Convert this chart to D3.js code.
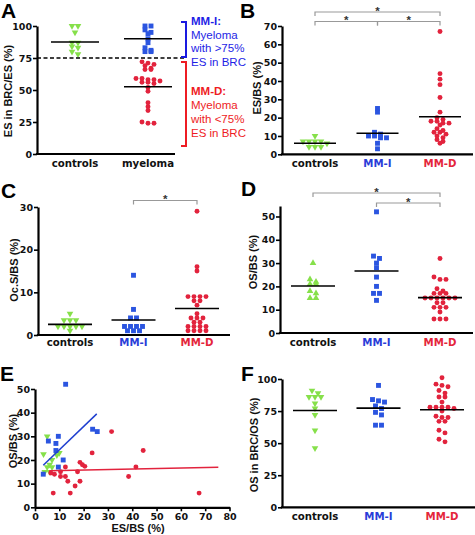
<!DOCTYPE html>
<html><head><meta charset="utf-8">
<script src="https://cdn.jsdelivr.net/npm/d3@7"></script>
<style>body{margin:0;background:#fff}svg{display:block}</style>
</head><body>
<svg id="chart" width="475" height="535"></svg>
<script>
// ---------------- DATA ----------------
const groups3 = ["controls", "MM-I", "MM-D"];
const groupsA = ["controls", "myeloma"];

// Panel A: ES in BRC/ES (%)
const aControls = [100, 100, 95, 87, 87, 84, 83, 80, 78];
const aMMI = [100, 100, 97, 95, 94, 90, 87, 83, 81, 80, 80];
const aMMD = [72, 71, 70, 69, 67, 66, 66, 59, 59, 58, 58, 57, 56, 56, 55, 52, 49, 40, 37, 34, 25, 24, 24];
const aLines = [87.5, 90, 52.5];
const aTicks = [0, 25, 50, 75, 100];
const aCutoff = 75;

// Panel B: ES/BS (%)
const bControls = [10, 7, 7, 7, 7, 6, 4, 4, 4];
const bMMI = [25, 23, 12, 11, 10, 10, 9, 9, 6, 3];
const bMMD = [67, 44, 41, 38, 31, 23, 20, 19, 18, 18, 17, 17, 16, 14, 13, 12, 12, 11, 10, 9, 8, 7, 6];
const bLines = [6, 11.5, 20.5];
const bTicks = [0, 10, 20, 30, 40, 50, 60, 70];
const bSig = [["controls", "MM-D", 0], ["controls", "MM-I", 1], ["MM-I", "MM-D", 1]];

// Panel C: Oc.S/BS (%)
const cControls = [5, 3.5, 3.5, 3.5, 2, 2, 2, 2, 2, 1];
const cMMI = [14, 6, 4, 4, 2, 2, 2, 2, 1, 1, 1];
const cMMD = [29, 16, 15, 9, 9, 9, 9, 8, 8, 7, 5, 4, 4, 4, 3, 3, 2, 2, 2, 2, 1, 1, 1, 1];
const cLines = [2.5, 3.5, 6.2];
const cTicks = [0, 10, 20, 30];
const cSig = [["MM-I", "MM-D", 0]];

// Panel D: OS/BS (%)
const dControls = [30, 23, 22, 21, 21, 18, 17, 15, 15];
const dMMI = [52, 33, 32, 30, 28, 24, 20, 17, 17, 14];
const dMMD = [32, 24, 23, 23, 19, 18, 17, 17, 17, 15, 15, 15, 15, 15, 15, 13, 13, 11, 11, 11, 9, 6, 6, 6];
const dLines = [20.2, 26.6, 15.2];
const dTicks = [0, 10, 20, 30, 40, 50];
const dSig = [["controls", "MM-D", 0], ["MM-I", "MM-D", 1]];

// Panel E: OS/BS vs ES/BS
const eCtrlES = [5, 3.5, 10, 9, 7, 6, 5, 7, 4, 6];
const eCtrlOS = [30, 22.5, 23, 22, 20, 18, 17, 17, 15, 15];
const eMMIES = [3.4, 5.5, 9.6, 8.6, 8.6, 11.6, 9.6, 23.7, 25.6, 12.6];
const eMMIOS = [14, 28, 30, 27, 24, 20, 17, 33, 32, 52];
const eMMDES = [31.5, 44.5, 23.5, 18.5, 19.5, 20.5, 12.5, 17.5, 10.5, 6.5, 8, 41.5, 38.5, 10.5, 12.5, 13.5, 18.5, 16.5, 7.5, 14.5, 67.5];
const eMMDOS = [32, 24, 23, 19, 18, 17.3, 17, 15, 15, 14.5, 14, 17, 13, 13, 13, 11, 11, 9, 6, 6, 6];
const eFitMMI = [[3.4, 17.8], [25.4, 39.5]];
const eFitMMD = [[5.9, 15.5], [75.4, 16.9]];
const eXTicks = [0, 10, 20, 30, 40, 50, 60, 70, 80];
const eYTicks = [0, 10, 20, 30, 40, 50];

// Panel F: OS in BRC/OS (%)
const fControls = [91, 89, 86, 86, 86, 81, 77, 72, 60, 46];
const fMMI = [95, 84, 83, 82, 79, 77, 74, 72, 64, 64];
const fMMD = [101, 96, 95, 94, 91, 89, 86, 86, 82, 78, 78, 78, 78, 77, 75, 71, 70, 70, 67, 67, 60, 58, 53, 51];
const fLines = [75.5, 77.3, 76];
const fTicks = [0, 25, 50, 75, 100];

// ---------------- STYLE ----------------
const GREEN = "#86e04a", BLUE = "#2b55e0", RED = "#e2233d";
const BLUE_TXT = "#2a3cd8", RED_TXT = "#e4263b";
const TICKF = "'DejaVu Sans', sans-serif";
const TITLEF = "'Liberation Sans', Arial, sans-serif";

const svg = d3.select("#chart");

const symTriDown = d3.symbol(d3.symbolTriangle, 19);
const symSquare = d3.symbol(d3.symbolSquare, 24);
const symCircle = d3.symbol(d3.symbolCircle, 19);

function marker(g, shape, color, x, y) {
  let gen, rot = 0;
  if (shape === "tri") { gen = symTriDown; rot = 180; }
  else if (shape === "triUp") { gen = symTriDown; rot = 0; }
  else if (shape === "sq") gen = symSquare;
  else gen = symCircle;
  g.append("path").attr("d", gen()).attr("fill", color)
    .attr("transform", `translate(${x},${y}) rotate(${rot})`);
}

function swarm(values, yScale, cx, thr = 3, sp = 6, maxN = 7) {
  const pts = values.map(v => ({ v, y: yScale(v) })).sort((a, b) => a.y - b.y);
  const rows = []; let cur = null;
  pts.forEach(p => {
    if (!cur || p.y - cur.y0 > thr || cur.items.length >= maxN) { cur = { y0: p.y, items: [] }; rows.push(cur); }
    cur.items.push(p);
  });
  rows.forEach(r => { const n = r.items.length; r.items.forEach((p, i) => p.x = cx + (i - (n - 1) / 2) * sp); });
  return pts;
}

function yAxis(g, scale, x, ticks) {
  const ax = g.append("g").attr("transform", `translate(${x},0)`)
    .call(d3.axisLeft(scale).tickValues(ticks).tickSize(4).tickSizeOuter(0).tickPadding(1));
  ax.select(".domain").attr("stroke-width", 2.2);
  ax.selectAll(".tick line").attr("stroke-width", 1.6);
  ax.selectAll(".tick text").attr("font-family", TICKF).attr("font-weight", "bold").attr("font-size", 9.5).attr("fill", "#111");
  return ax;
}

function xLine(g, x0, x1, y) {
  g.append("line").attr("x1", x0 - 1.1).attr("x2", x1).attr("y1", y).attr("y2", y)
    .attr("stroke", "#000").attr("stroke-width", 2.2);
}

function yTitle(g, text, x, y) {
  g.append("text").attr("transform", `translate(${x},${y}) rotate(-90)`)
    .attr("text-anchor", "middle").attr("font-family", TITLEF).attr("font-weight", "bold")
    .attr("font-size", 11).attr("fill", "#111").text(text);
}

function panelLetter(t, x, y) {
  svg.append("text").attr("x", x).attr("y", y).attr("font-family", TITLEF).attr("font-weight", "bold")
    .attr("font-size", 21).attr("fill", "#000").text(t);
}

function catLabels(g, xs, cats, colors, y) {
  cats.forEach((c, i) => g.append("text").attr("x", xs(c)).attr("y", y).attr("text-anchor", "middle")
    .attr("font-family", TICKF).attr("font-weight", "bold").attr("font-size", 10.2)
    .attr("fill", colors[i]).text(c));
}

function meanLine(g, cx, yv, hw) {
  g.append("line").attr("x1", cx - hw).attr("x2", cx + hw).attr("y1", yv).attr("y2", yv)
    .attr("stroke", "#000").attr("stroke-width", 1.6);
}

function sigBrackets(g, xs, sig, yLevels) {
  sig.forEach(([a, b, lvl]) => {
    const y = yLevels[lvl], xa = xs(a), xb = xs(b);
    g.append("path").attr("d", `M${xa},${y + 4}V${y}H${xb}V${y + 4}`)
      .attr("fill", "none").attr("stroke", "#999").attr("stroke-width", 1.2);
    g.append("text").attr("x", (xa + xb) / 2).attr("y", y + 2.5).attr("text-anchor", "middle")
      .attr("font-family", TITLEF).attr("font-weight", "bold").attr("font-size", 11.5).attr("fill", "#333").text("*");
  });
}

function columnPanel(cfg) {
  const g = svg.append("g");
  const { y, xs } = cfg;
  cfg.series.forEach((s, i) => {
    const cx = xs(s.cat);
    swarm(s.vals, y, cx, cfg.thr || 3, 6, cfg.maxN || 7).forEach(p => marker(g, s.shape, s.color, p.x, p.y));
    meanLine(g, cx, y(cfg.lines[i]), cfg.hw);
  });
  yAxis(g, y, cfg.axisX, cfg.ticks);
  xLine(g, cfg.axisX, cfg.xEnd, y(0));
  if (cfg.sig) sigBrackets(g, xs, cfg.sig, cfg.sigY);
  yTitle(g, cfg.title, cfg.titleX, cfg.titleY);
  if (cfg.cats) catLabels(g, xs, cfg.cats, cfg.catColors, cfg.catY);
  return g;
}

const catCols = ["#111", BLUE_TXT, RED_TXT];

// ---------------- PANEL A ----------------
{
  const y = d3.scaleLinear([0, 100], [154, 26]);
  const xs = d3.scalePoint(groupsA, [75, 148]);
  const g = columnPanel({
    y, xs, axisX: 37, xEnd: 175, ticks: aTicks, hw: 24,
    series: [
      { cat: "controls", vals: aControls, shape: "tri", color: GREEN },
      { cat: "myeloma", vals: aMMI, shape: "sq", color: BLUE },
      { cat: "myeloma", vals: aMMD, shape: "circ", color: RED }
    ],
    lines: aLines, title: "ES in BRC/ES (%)", titleX: 12, titleY: 91,
    cats: groupsA, catColors: ["#111", "#111"], catY: 167, maxN: 5
  });
  g.append("line").attr("x1", 37).attr("x2", 184).attr("y1", y(aCutoff)).attr("y2", y(aCutoff))
    .attr("stroke", "#000").attr("stroke-width", 1.5).attr("stroke-dasharray", "4,2.5");
  g.append("path").attr("d", "M181,22H186V57H181").attr("fill", "none").attr("stroke", "#1a1ae0").attr("stroke-width", 2);
  g.append("path").attr("d", "M181,62H186V146H181").attr("fill", "none").attr("stroke", "#ee1c24").attr("stroke-width", 2);
  const tI = [["MM-I:", true, 25], ["Myeloma", false, 38.5], ["with >75%", false, 52], ["ES in BRC", false, 65.5]];
  const tD = [["MM-D:", true, 95], ["Myeloma", false, 109], ["with <75%", false, 123], ["ES in BRC", false, 137]];
  tI.forEach(([t, b, yy]) => g.append("text").attr("x", 191).attr("y", yy).attr("font-family", TITLEF)
    .attr("font-weight", b ? "bold" : "normal").attr("font-size", 11.5).attr("fill", "#1e1ee6").text(t));
  tD.forEach(([t, b, yy]) => g.append("text").attr("x", 191).attr("y", yy).attr("font-family", TITLEF)
    .attr("font-weight", b ? "bold" : "normal").attr("font-size", 11.5).attr("fill", "#ee1c24").text(t));
}

// ---------------- PANEL B ----------------
columnPanel({
  y: d3.scaleLinear([0, 70], [154.3, 26]), xs: d3.scalePoint(groups3, [315, 440]),
  axisX: 282, xEnd: 473, ticks: bTicks, hw: 21,
  series: [
    { cat: "controls", vals: bControls, shape: "tri", color: GREEN },
    { cat: "MM-I", vals: bMMI, shape: "sq", color: BLUE },
    { cat: "MM-D", vals: bMMD, shape: "circ", color: RED }
  ],
  lines: bLines, sig: bSig, sigY: [12, 21.5],
  title: "ES/BS (%)", titleX: 261, titleY: 88,
  cats: groups3, catColors: catCols, catY: 167
});

// ---------------- PANEL C ----------------
columnPanel({
  y: d3.scaleLinear([0, 30], [335, 207]), xs: d3.scalePoint(groups3, [70, 197]),
  axisX: 38, xEnd: 230, ticks: cTicks, hw: 22,
  series: [
    { cat: "controls", vals: cControls, shape: "tri", color: GREEN },
    { cat: "MM-I", vals: cMMI, shape: "sq", color: BLUE },
    { cat: "MM-D", vals: cMMD, shape: "circ", color: RED }
  ],
  lines: cLines, sig: cSig, sigY: [200.5],
  title: "Oc.S/BS (%)", titleX: 18, titleY: 270,
  cats: groups3, catColors: catCols, catY: 346
});

// ---------------- PANEL D ----------------
columnPanel({
  y: d3.scaleLinear([0, 54.5], [333, 206]), xs: d3.scalePoint(groups3, [313, 440]),
  axisX: 280, xEnd: 473, ticks: dTicks, hw: 22,
  series: [
    { cat: "controls", vals: dControls, shape: "triUp", color: GREEN },
    { cat: "MM-I", vals: dMMI, shape: "sq", color: BLUE },
    { cat: "MM-D", vals: dMMD, shape: "circ", color: RED }
  ],
  lines: dLines, sig: dSig, sigY: [193, 203],
  title: "OS/BS (%)", titleX: 257, titleY: 262,
  cats: groups3, catColors: catCols, catY: 346
});

// ---------------- PANEL E ----------------
{
  const g = svg.append("g");
  const x = d3.scaleLinear([0, 80], [35, 229.5]);
  const y = d3.scaleLinear([0, 50], [507.3, 389]);
  const line = d3.line().x(d => x(d[0])).y(d => y(d[1]));
  eCtrlES.forEach((v, i) => marker(g, "tri", GREEN, x(v), y(eCtrlOS[i])));
  eMMDES.forEach((v, i) => marker(g, "circ", RED, x(v), y(eMMDOS[i])));
  eMMIES.forEach((v, i) => marker(g, "sq", BLUE, x(v), y(eMMIOS[i])));
  g.append("path").attr("d", line(eFitMMD)).attr("stroke", RED).attr("stroke-width", 1.5).attr("fill", "none");
  g.append("path").attr("d", line(eFitMMI)).attr("stroke", "#2040d0").attr("stroke-width", 1.5).attr("fill", "none");
  yAxis(g, y, 35, eYTicks);
  const ax = g.append("g").attr("transform", `translate(0,${y(0)})`)
    .call(d3.axisBottom(x).tickValues(eXTicks).tickSize(4).tickSizeOuter(0).tickPadding(2));
  ax.select(".domain").attr("stroke-width", 2.2);
  ax.selectAll(".tick line").attr("stroke-width", 1.6);
  ax.selectAll(".tick text").attr("font-family", TICKF).attr("font-weight", "bold").attr("font-size", 9.5).attr("fill", "#111");
  yTitle(g, "OS/BS (%)", 17, 441);
  g.append("text").attr("x", 138).attr("y", 532).attr("text-anchor", "middle").attr("font-family", TITLEF)
    .attr("font-weight", "bold").attr("font-size", 11).attr("fill", "#111").text("ES/BS (%)");
}

// ---------------- PANEL F ----------------
columnPanel({
  y: d3.scaleLinear([0, 100], [507.3, 379]), xs: d3.scalePoint(groups3, [315, 442]),
  axisX: 282, xEnd: 475, ticks: fTicks, hw: 22,
  series: [
    { cat: "controls", vals: fControls, shape: "tri", color: GREEN },
    { cat: "MM-I", vals: fMMI, shape: "sq", color: BLUE },
    { cat: "MM-D", vals: fMMD, shape: "circ", color: RED }
  ],
  lines: fLines,
  title: "OS in BRC/OS (%)", titleX: 258, titleY: 445,
  cats: groups3, catColors: catCols, catY: 520, maxN: 5
});

// Panel letters
panelLetter("A", 1, 18);
panelLetter("B", 240, 18);
panelLetter("C", 1, 198);
panelLetter("D", 241, 196);
panelLetter("E", 0, 381);
panelLetter("F", 241, 381);
</script>
</body></html>
